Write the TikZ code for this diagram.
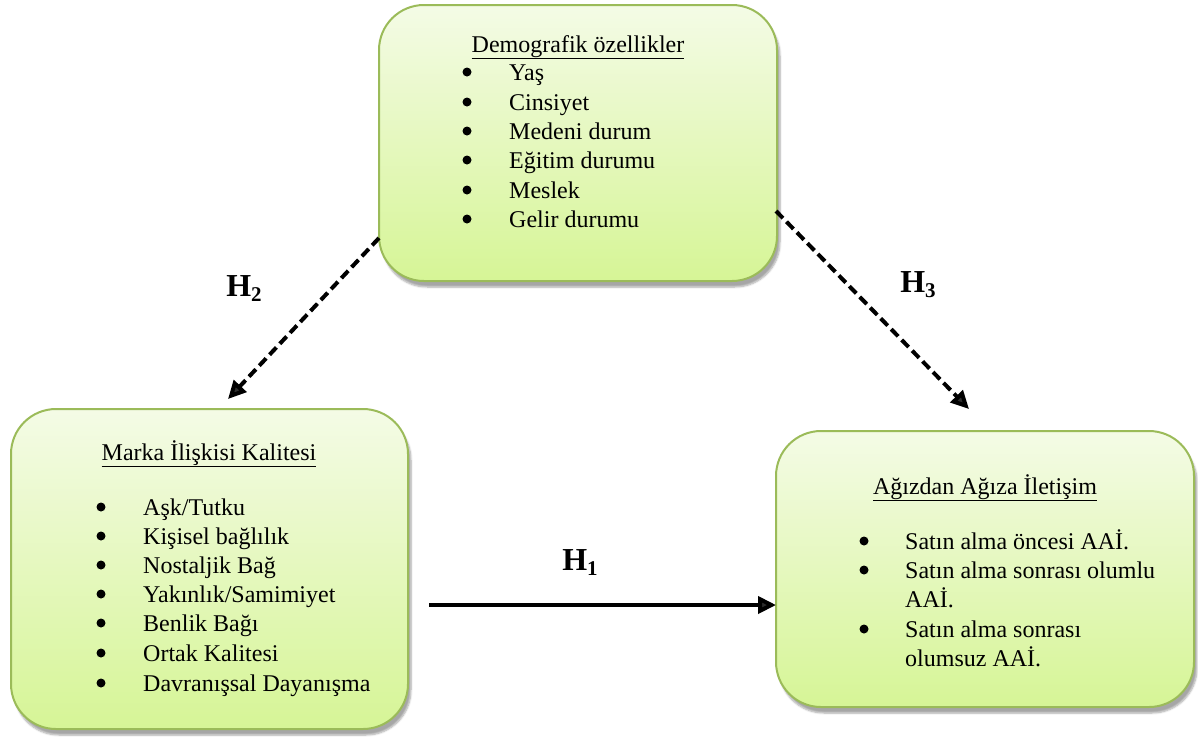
\documentclass[tikz,border=0pt]{standalone}
\usepackage{fontspec}
\setmainfont{Liberation Serif}
\usetikzlibrary{arrows.meta,shadows.blur}
\definecolor{boxtop}{RGB}{244,251,230}
\definecolor{boxbot}{RGB}{214,245,150}
\definecolor{boxline}{RGB}{155,187,89}
\tikzset{
  gbox/.style={draw=boxline, line width=2pt, rounded corners=45pt,
    top color=boxtop, bottom color=boxbot,
    blur shadow={shadow xshift=3pt, shadow yshift=-6pt, shadow blur steps=6, shadow opacity=35}},
  txt/.style={anchor=base west, inner sep=0pt, font=\fontsize{24}{28}\selectfont},
  ttl/.style={anchor=base, inner sep=0pt, font=\fontsize{24}{28}\selectfont},
  bul/.style={circle, fill=black, inner sep=0pt, minimum size=9pt},
  hlab/.style={inner sep=0pt, font=\fontsize{32}{34}\selectfont\bfseries},
  darr/.style={line width=4pt, dash pattern=on 10pt off 5pt, -{Triangle[length=18pt,width=17pt]}},
  sarr/.style={line width=4pt, -{Triangle[length=18pt,width=17pt]}}
}
\newcommand{\hsub}[2]{#1\raisebox{-5pt}{\fontsize{21}{23}\selectfont #2}}
\begin{document}
\begin{tikzpicture}[x=1pt,y=-1pt]
\path[use as bounding box] (0,0) rectangle (1198,737);
% boxes
\path[gbox] (379,5) rectangle (777,281);
\node[inner sep=0pt] (demo) at (578,143) {};
\path[gbox] (11,409) rectangle (408,729);
\node[inner sep=0pt] (marka) at (209,569) {};
\path[gbox] (776,431) rectangle (1194,707);
\node[inner sep=0pt] (agiz) at (985,569) {};
% top box text
\node[ttl] (t1) at (578,52) {\underline{Demografik özellikler}};
\foreach \i/\y/\t in {1/72/{Yaş},2/102/{Cinsiyet},3/131/{Medeni durum},4/160/{Eğitim durumu},5/190/{Meslek},6/219/{Gelir durumu}}{
  \node[bul] (db\i) at (467,\y) {};
  \node[txt] (dt\i) at (509,\y+8) {\t};
}
% left box text
\node[ttl] (t2) at (209,460) {\underline{Marka İlişkisi Kalitesi}};
\foreach \i/\y/\t in {1/507/{Aşk/Tutku},2/536/{Kişisel bağlılık},3/565/{Nostaljik Bağ},4/594/{Yakınlık/Samimiyet},5/623/{Benlik Bağı},6/653/{Ortak Kalitesi},7/683/{Davranışsal Dayanışma}}{
  \node[bul] (mb\i) at (101,\y) {};
  \node[txt] (mt\i) at (143,\y+8) {\t};
}
% right box text
\node[ttl] (t3) at (985,494) {\underline{Ağızdan Ağıza İletişim}};
\node[bul] (ab1) at (864,541) {};
\node[txt] (at1) at (905,549) {Satın alma öncesi AAİ.};
\node[bul] (ab2) at (864,570) {};
\node[txt] (at2) at (905,578) {Satın alma sonrası olumlu};
\node[txt] (at2b) at (905,607) {AAİ.};
\node[bul] (ab3) at (864,629) {};
\node[txt] (at3) at (905,637) {Satın alma sonrası};
\node[txt] (at3b) at (905,666) {olumsuz AAİ.};
% connectors
\coordinate (h2s) at (379,238);
\coordinate (h2e) at (228,399);
\coordinate (h3s) at (776,211);
\coordinate (h3e) at (969,409);
\coordinate (h1s) at (429,605);
\coordinate (h1e) at (776,605);
\draw[darr] (h2s) -- (h2e);
\draw[darr] (h3s) -- (h3e);
\draw[sarr] (h1s) -- (h1e);
% labels
\node[hlab] (H2) at (244,289) {\hsub{H}{2}};
\node[hlab] (H3) at (918,285) {\hsub{H}{3}};
\node[hlab] (H1) at (580,563) {\hsub{H}{1}};
\end{tikzpicture}
\end{document}
